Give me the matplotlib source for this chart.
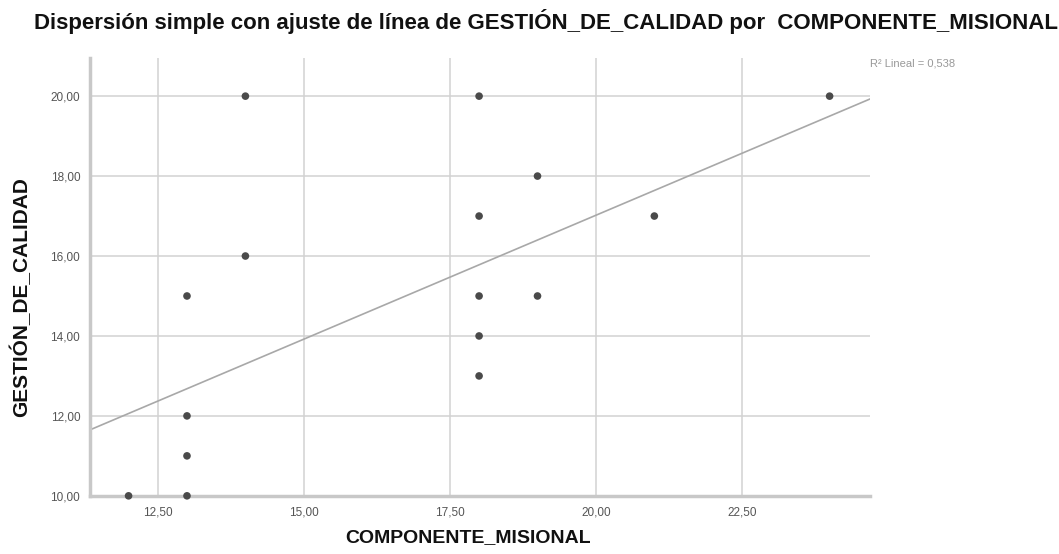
import matplotlib
matplotlib.use("Agg")
import matplotlib.pyplot as plt
import numpy as np
from matplotlib.ticker import FuncFormatter

# COMPONENTE_MISIONAL vs GESTIÓN_DE_CALIDAD
componente = [12, 13, 13, 13, 13, 14, 14, 18, 18, 18, 18, 18, 19, 19, 21, 24]
gestion = [10, 10, 11, 12, 15, 16, 20, 20, 17, 15, 14, 13, 18, 15, 17, 20]

# linear fit as reported (intercept, slope)
fit_intercept = 4.62
fit_slope = 0.62
r2_text = "R² Lineal = 0,538"

x_ticks = [12.5, 15.0, 17.5, 20.0, 22.5]
y_ticks = [10, 12, 14, 16, 18, 20]

title = "Dispersión simple con ajuste de línea de GESTIÓN_DE_CALIDAD por  COMPONENTE_MISIONAL"
x_label = "COMPONENTE_MISIONAL"
y_label = "GESTIÓN_DE_CALIDAD"

font = ["Liberation Sans", "DejaVu Sans"]


def comma_fmt(v, _pos):
    return f"{v:.2f}".replace(".", ",")


fig = plt.figure(figsize=(10.59, 5.54), dpi=100)
ax = fig.add_axes([0.085, 0.105, 0.737, 0.79])

xlim = (11.34, 24.7)
ax.set_xlim(*xlim)
ax.set_ylim(10, 20.95)

ax.set_xticks(x_ticks)
ax.set_yticks(y_ticks)
ax.xaxis.set_major_formatter(FuncFormatter(comma_fmt))
ax.yaxis.set_major_formatter(FuncFormatter(comma_fmt))
ax.tick_params(length=0, labelsize=8.5, labelcolor="#555555")
ax.tick_params(axis="y", pad=7)
ax.tick_params(axis="x", pad=8)
for lbl in ax.get_xticklabels() + ax.get_yticklabels():
    lbl.set_family(font)

ax.grid(True, color="#d2d2d2", lw=1.1)
ax.set_axisbelow(True)
for side in ("top", "right"):
    ax.spines[side].set_visible(False)
for side in ("left", "bottom"):
    ax.spines[side].set_color("#c8c8c8")
    ax.spines[side].set_linewidth(2.5)

# regression line across the full x range
xs = np.array(xlim)
ax.plot(xs, fit_intercept + fit_slope * xs, color="#a8a8a8", lw=1.2, zorder=2)

ax.scatter(componente, gestion, s=30, color="#4a4a4a", edgecolors="none",
           zorder=3, clip_on=False)

ax.set_xlabel(x_label, fontsize=14, fontweight="bold", family=font,
              color="#111111")
ax.xaxis.set_label_coords(0.484, -0.075)
ax.set_ylabel(y_label, fontsize=15, fontweight="bold", family=font,
              color="#111111")
ax.yaxis.set_label_coords(-0.076, 0.455)

fig.text(0.516, 0.962, title, ha="center", va="center", fontsize=16,
         fontweight="bold", family=font, color="#111111")
fig.text(0.822, 0.886, r2_text, ha="left", va="center", fontsize=8,
         family=font, color="#999999")

fig.savefig("out.png", dpi=100)
